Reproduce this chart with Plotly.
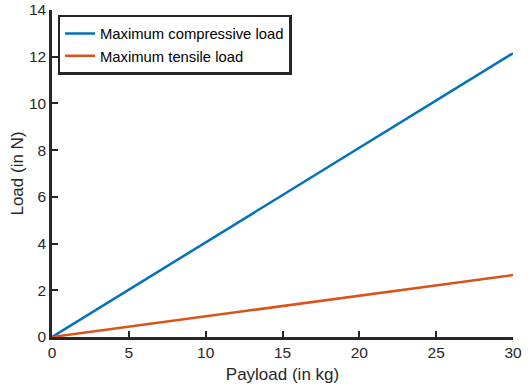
import plotly.graph_objects as go

payload = [0, 30]
compressive = [0, 12.15]
tensile = [0, 2.65]

fig = go.Figure()
fig.add_trace(go.Scatter(x=payload, y=compressive, mode="lines",
                         name="Maximum compressive load",
                         line=dict(color="#0072BD", width=2.5)))
fig.add_trace(go.Scatter(x=payload, y=tensile, mode="lines",
                         name="Maximum tensile load",
                         line=dict(color="#D95319", width=2.5)))

axis_common = dict(showline=True, linecolor="#262626", linewidth=2.5,
                   ticks="inside", ticklen=6, tickwidth=2, tickcolor="#262626",
                   showgrid=False, zeroline=False, mirror=False, automargin=False,
                   tickfont=dict(size=15.5, color="#262626"))
fig.update_xaxes(range=[0, 30], dtick=5,
                 title=dict(text="Payload (in kg)", font=dict(size=17, color="#262626"), standoff=8),
                 **axis_common)
fig.update_yaxes(range=[0, 14], dtick=2,
                 title=dict(text="Load (in N)", font=dict(size=17, color="#262626"), standoff=1),
                 **axis_common)

fig.update_layout(
    width=532, height=390,
    margin=dict(l=52, r=19, t=10, b=53),
    plot_bgcolor="white", paper_bgcolor="white",
    font=dict(family="Liberation Sans, Arial, sans-serif", color="#262626"),
    showlegend=True,
    legend=dict(x=0.012, y=0.985, xanchor="left", yanchor="top",
                bgcolor="white", bordercolor="#262626", borderwidth=2.5,
                font=dict(size=14.8, color="black"),
                tracegroupgap=0),
)
fig.write_html("out.html", config={"displayModeBar": False},
               post_script="document.body.style.margin='0';")
